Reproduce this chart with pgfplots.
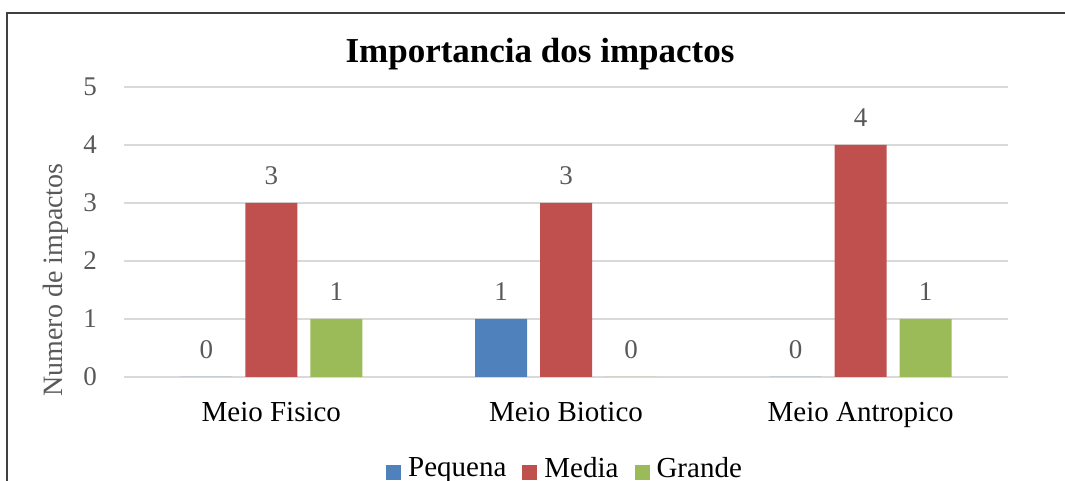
\documentclass[border=0pt]{standalone}
\usepackage{pgfplots}
\pgfplotsset{compat=1.18}
\usepackage{fontspec}
\setmainfont{Liberation Serif}
\definecolor{cPeq}{HTML}{4F81BD}
\definecolor{cMed}{HTML}{C0504D}
\definecolor{cGra}{HTML}{9BBB59}
\definecolor{gridc}{HTML}{D9D9D9}
\definecolor{lab}{HTML}{595959}
\definecolor{frm}{HTML}{404040}
\begin{document}
\begin{tikzpicture}[x=1pt,y=1pt]
% chart frame
\draw[line width=1.2pt, frm] (7,-30) -- (7,468) -- (1090,468);
% title
\node[anchor=base, font=\fontsize{35}{40}\selectfont\bfseries] at (540,418) {Importancia dos impactos};
% y axis label
\node[rotate=90, anchor=base, text=lab, font=\fontsize{28}{32}\selectfont] at (62,201) {Numero de impactos};
\begin{axis}[
  at={(124pt,104pt)}, anchor=south west,
  scale only axis, width=884pt, height=290pt,
  clip=false,
  ybar=13pt, bar width=52pt,
  xmin=-0.5, xmax=2.5, ymin=0, ymax=5,
  ytick={0,1,2,3,4,5},
  xtick={0,1,2},
  xticklabels={Meio Fisico, Meio Biotico, Meio Antropico},
  axis line style={draw=none},
  major tick length=0pt,
  ymajorgrids,
  grid style={gridc, line width=1.3pt},
  /pgf/number format/assume math mode=true,
  yticklabel style={font=\fontsize{27}{30}\selectfont, text=lab, anchor=east, inner sep=0pt, xshift=-27pt},
  xticklabel style={font=\fontsize{29}{34}\selectfont, text=black, anchor=base, inner sep=0pt, yshift=-45pt},
  nodes near coords,
  nodes near coords style={font=\fontsize{27}{30}\selectfont, text=lab, anchor=south, inner sep=0pt, yshift=18pt},
  legend columns=3,
  legend style={at={(0.2964,-0.316)}, anchor=west, draw=none, fill=none, inner sep=0pt,
    font=\fontsize{29}{34}\selectfont, nodes={inner sep=0pt},
    /tikz/every odd column/.append style={column sep=7pt},
    /tikz/every even column/.append style={column sep=16pt}},
  legend image code/.code={\path[fill,#1,draw=none] (0pt,-12pt) rectangle (15pt,3pt);},
]
\addplot[fill=cPeq, draw=none] coordinates {(0,0) (1,1) (2,0)};
\addplot[fill=cMed, draw=none] coordinates {(0,3) (1,3) (2,4)};
\addplot[fill=cGra, draw=none] coordinates {(0,1) (1,0) (2,1)};
\addlegendentry{Pequena}
\addlegendentry{Media}
\addlegendentry{Grande}
\end{axis}
\pgfresetboundingbox
\useasboundingbox (0,0) rectangle (1065,481);
\end{tikzpicture}
\end{document}
